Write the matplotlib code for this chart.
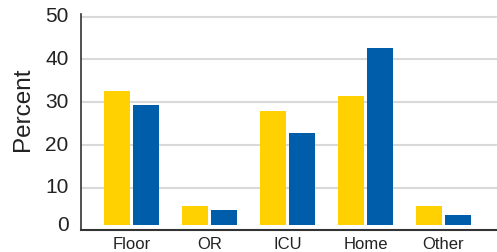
import numpy as np
import matplotlib.pyplot as plt

# Chart data.
categories = ['Floor', 'OR', 'ICU', 'Home', 'Other']
series_a = [32.6, 5.6, 27.8, 31.5, 5.6]
series_b = [29.2, 4.7, 22.7, 42.6, 3.5]
y_ticks = [0, 10, 20, 30, 40, 50]

yellow = '#FFD100'
blue = '#005DA9'
text_color = '#222222'
plt.rcParams['font.family'] = ['Liberation Sans', 'DejaVu Sans']

fig = plt.figure(figsize=(4.97, 2.53), dpi=100)
ax = fig.add_axes([81 / 497, 1 - 231.3 / 253, 1 - 81 / 497, (231.3 - 15) / 253])

# Bars sit slightly above the axis line in the original.
base = 1.2
x = np.arange(len(categories))
width = 0.333
off = 0.186
ax.bar(x - off, np.array(series_a) - base, width, bottom=base, color=yellow)
ax.bar(x + off, np.array(series_b) - base, width, bottom=base, color=blue)

# Gridlines.
for t in y_ticks[1:]:
    ax.axhline(t, color='#d9d9d9', lw=1.5, zorder=0)

ax.set_xlim(-0.647, 4.686)
ax.set_ylim(0, 50)
ax.set_xticks(x)
ax.set_xticklabels(categories, fontsize=12, color=text_color)
# Labels sit a little above their gridlines in the original.
ax.set_yticks([1.8] + [t + 0.6 for t in y_ticks[1:]])
ax.set_yticklabels([str(t) for t in y_ticks], fontsize=15, color=text_color)
for lab in ax.get_yticklabels():
    lab.set_va('center_baseline')
ax.tick_params(length=0)
ax.tick_params(axis='y', pad=9)
ax.tick_params(axis='x', pad=4)

for s in ['top', 'right']:
    ax.spines[s].set_visible(False)
ax.spines['left'].set_color('#333333')
ax.spines['bottom'].set_color('#333333')
ax.spines['left'].set_linewidth(1.2)
ax.spines['bottom'].set_linewidth(1.5)

fig.text(23 / 497, 1 - 109 / 253, 'Percent', rotation=90, fontsize=17.5,
         color=text_color, ha='center', va='center')

fig.savefig('out.png', dpi=100)
